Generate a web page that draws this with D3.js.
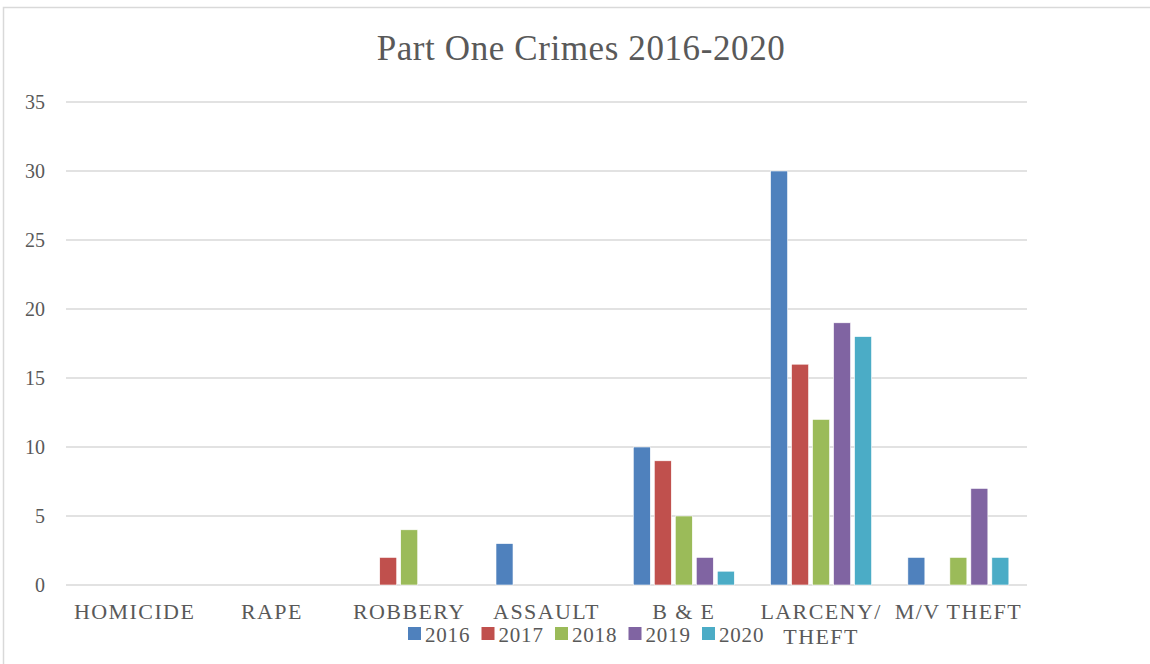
<!DOCTYPE html>
<html><head><meta charset="utf-8">
<script src="https://cdn.jsdelivr.net/npm/d3@7"></script>
<style>body{margin:0;background:#fff}svg{display:block}text{font-family:"Liberation Serif","DejaVu Serif",serif;fill:#595959}</style>
</head><body><svg id="c" width="1150" height="664"></svg>
<script>
const categories = ["HOMICIDE","RAPE","ROBBERY","ASSAULT","B & E","LARCENY/ THEFT","M/V THEFT"];
const years = ["2016","2017","2018","2019","2020"];
const s2016 = [0,0,0,3,10,30,2];
const s2017 = [0,0,2,0,9,16,0];
const s2018 = [0,0,4,0,5,12,2];
const s2019 = [0,0,0,0,2,19,7];
const s2020 = [0,0,0,0,1,18,2];
const colors = ["#4F81BD","#C0504D","#9BBB59","#8064A2","#4BACC6"];
const yTicks = [0,5,10,15,20,25,30,35];
const series = [s2016,s2017,s2018,s2019,s2020];

const svg = d3.select("#c");
svg.append("rect").attr("x",3.5).attr("y",7.5).attr("width",1200).attr("height",700)
  .attr("fill","#fff").attr("stroke","#d9d9d9").attr("stroke-width",1.5);

const L=66,R=1027,T=102,B=585;
const x = d3.scaleBand().domain(categories).range([L,R]).paddingInner(0).paddingOuter(0);
const y = d3.scaleLinear().domain([0,35]).range([B,T]);
const groupW = 101;
const xs = d3.scaleBand().domain(years).range([0,groupW]).paddingInner(0.19).paddingOuter(0);

svg.append("text").attr("x",581).attr("y",60).attr("text-anchor","middle")
  .style("font-size","35px").style("letter-spacing","0.6px").text("Part One Crimes 2016-2020");

const g = svg.append("g");
g.selectAll("line.grid").data(yTicks).enter().append("line")
  .attr("x1",L).attr("x2",R).attr("y1",d=>y(d)).attr("y2",d=>y(d))
  .attr("stroke","#d9d9d9").attr("stroke-width",1.5);

const yAxis = d3.axisLeft(y).tickValues(yTicks).tickSize(0).tickPadding(0);
const ya = svg.append("g").attr("transform","translate(45,0)").call(yAxis);
ya.select(".domain").remove();
ya.selectAll("text").style("font-size","20px").attr("fill","#595959").style("font-family","Liberation Serif");

categories.forEach((c,ci)=>{
  const gx = x(c)+x.bandwidth()/2-groupW/2;
  years.forEach((yr,si)=>{
    const v = series[si][ci];
    if(v<=0) return;
    svg.append("rect").attr("x",gx+xs(yr)).attr("width",xs.bandwidth())
      .attr("y",y(v)).attr("height",y(0)-y(v)).attr("fill",colors[si])
      .attr("stroke","#fff").attr("stroke-width",0.6);
  });
});

const xAxis = d3.axisBottom(x).tickSize(0).tickPadding(0);
const xa = svg.append("g").attr("transform",`translate(0,${B})`).call(xAxis);
xa.select(".domain").remove();
xa.selectAll(".tick text").each(function(d){
  const t = d3.select(this); t.text(null).attr("y",0).attr("dy",null)
   .style("font-size","22px").style("letter-spacing","1.4px").attr("fill","#595959").style("font-family","Liberation Serif");
  const parts = d==="LARCENY/ THEFT" ? ["LARCENY/","THEFT"] : [d];
  parts.forEach((p,i)=>t.append("tspan").attr("x",0).attr("y",34+i*25).text(p));
});

const leg = svg.append("g");
years.forEach((yr,i)=>{
  const lx = 408+i*73.5;
  leg.append("rect").attr("x",lx).attr("y",627).attr("width",13).attr("height",13).attr("fill",colors[i]);
  leg.append("text").attr("x",lx+17).attr("y",642).style("font-size","21px").style("letter-spacing","0.8px").text(yr);
});
</script></body></html>
